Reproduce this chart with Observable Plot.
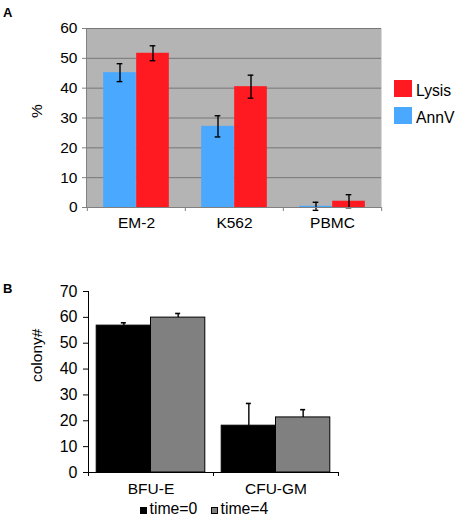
<!DOCTYPE html>
<html><head><meta charset="utf-8">
<script src="https://cdn.jsdelivr.net/npm/d3@7"></script>
<script src="https://cdn.jsdelivr.net/npm/@observablehq/plot@0.6"></script>
<style>
body{margin:0;background:#fff;font-family:"Liberation Sans",Arial,sans-serif;}
#wrap{position:relative;width:460px;height:520px;overflow:hidden;}
#wrap svg{position:absolute;left:0;}
.panel{position:absolute;font-weight:bold;font-size:13px;line-height:13px;}
.sw{position:absolute;box-sizing:border-box;}
.lt{position:absolute;white-space:nowrap;}
</style></head><body><div id="wrap"></div>
<script>
// Panel A data
const catsA = ["EM-2", "K562", "PBMC"];
const seriesA = ["AnnV", "Lysis"];
const annV = [45.2, 27.2, 0.4];
const annVErr = [3.0, 3.55, 1.35];
const lysis = [51.7, 40.5, 2.1];
const lysisErr = [2.5, 3.85, 2.2];
const yTicksA = [0, 10, 20, 30, 40, 50, 60];
const colorsA = ["#4aa8ff", "#ff1a22"];

// Panel B data
const catsB = ["BFU-E", "CFU-GM"];
const seriesB = ["time=0", "time=4"];
const time0 = [56.8, 18.1];
const time0Err = [1.1, 8.6];
const time4 = [59.9, 21.3];
const time4Err = [1.6, 3.0];
const yTicksB = [0, 10, 20, 30, 40, 50, 60, 70];
const colorsB = ["#000000", "#808080"];

const FONT = '"Liberation Sans", Arial, sans-serif';
const wrap = document.getElementById("wrap");

// ---------- Panel A ----------
const A = {w: 460, h: 232, ml: 86, mr: 79, mt: 28, mb: 25, barW: 33, cap: 6};
const bwA = (A.w - A.ml - A.mr) / catsA.length;
const rowsA = catsA.flatMap((c, i) => [
  {cat: c, series: seriesA[0], v: annV[i], e: annVErr[i]},
  {cat: c, series: seriesA[1], v: lysis[i], e: lysisErr[i]}
]);
function seriesMarksA(s, k) {
  const off = k === 0 ? -A.barW / 2 : A.barW / 2;
  const rows = rowsA.filter(d => d.series === s);
  return [
    Plot.barY(rows, {x: "cat", y: "v", fill: "series",
      insetLeft: bwA / 2 + off - A.barW / 2, insetRight: bwA / 2 - off - A.barW / 2}),
    Plot.ruleX(rows, {x: "cat", y1: d => d.v - d.e, y2: d => d.v + d.e, dx: off, stroke: "#000", strokeWidth: 1.4}),
    Plot.tickY(rows, {x: "cat", y: d => d.v + d.e, stroke: "#000", strokeWidth: 1.4,
      insetLeft: bwA / 2 + off - A.cap / 2, insetRight: bwA / 2 - off - A.cap / 2}),
    Plot.tickY(rows, {x: "cat", y: d => d.v - d.e, stroke: "#000", strokeWidth: 1.4,
      insetLeft: bwA / 2 + off - A.cap / 2, insetRight: bwA / 2 - off - A.cap / 2})
  ];
}
const plotA = Plot.plot({
  width: A.w, height: A.h,
  marginLeft: A.ml, marginRight: A.mr, marginTop: A.mt, marginBottom: A.mb,
  style: {fontFamily: FONT, fontSize: "15px", background: "transparent", color: "#000"},
  x: {type: "band", domain: catsA, padding: 0, label: null},
  y: {domain: [0, 60], label: null},
  color: {domain: seriesA, range: colorsA},
  marks: [
    Plot.frame({fill: "#b4b4b4", stroke: null}),
    Plot.gridY(yTicksA.slice(1), {stroke: "#777", strokeOpacity: 1, strokeWidth: 1}),
    ...seriesMarksA(seriesA[0], 0),
    ...seriesMarksA(seriesA[1], 1),
    Plot.ruleY([0], {stroke: "#808080", strokeWidth: 1}),
    Plot.frame({anchor: "left", stroke: "#808080", strokeWidth: 1}),
    Plot.axisY(yTicksA, {tickSize: 4, tickPadding: 5, stroke: "#808080", fill: "#000", fontSize: 15.5, label: null}),
    Plot.axisX(catsA, {tickSize: 4, tickFormat: () => "", dx: -bwA / 2, stroke: "#808080", label: null}),
    Plot.axisX([catsA[catsA.length - 1]], {tickSize: 4, tickFormat: () => "", dx: bwA / 2, stroke: "#808080", label: null}),
    Plot.axisX(catsA, {tickSize: 0, tickPadding: 9, fontSize: 15.5, fill: "#000", label: null}),
    Plot.text(["%"], {text: d => d, frameAnchor: "left", dx: -49, rotate: -90, fontSize: 15.5, fill: "#000"})
  ]
});
plotA.style.top = "0px";
wrap.appendChild(plotA);

// ---------- Panel B ----------
const B = {top: 270, w: 460, h: 230, ml: 88, mr: 122, mt: 21, mb: 28, barW: 54.3, cap: 5};
const bwB = (B.w - B.ml - B.mr) / catsB.length;
const rowsB = catsB.flatMap((c, i) => [
  {cat: c, series: seriesB[0], v: time0[i], e: time0Err[i]},
  {cat: c, series: seriesB[1], v: time4[i], e: time4Err[i]}
]);
function seriesMarksB(s, k) {
  const off = k === 0 ? -B.barW / 2 : B.barW / 2;
  const rows = rowsB.filter(d => d.series === s);
  return [
    Plot.barY(rows, {x: "cat", y: "v", fill: "series", stroke: "#000", strokeWidth: 1,
      insetLeft: bwB / 2 + off - B.barW / 2, insetRight: bwB / 2 - off - B.barW / 2}),
    Plot.ruleX(rows, {x: "cat", y1: "v", y2: d => d.v + d.e, dx: off, stroke: "#000", strokeWidth: 1.4}),
    Plot.tickY(rows, {x: "cat", y: d => d.v + d.e, stroke: "#000", strokeWidth: 1.6,
      insetLeft: bwB / 2 + off - B.cap / 2, insetRight: bwB / 2 - off - B.cap / 2})
  ];
}
const plotB = Plot.plot({
  width: B.w, height: B.h,
  marginLeft: B.ml, marginRight: B.mr, marginTop: B.mt, marginBottom: B.mb,
  style: {fontFamily: FONT, fontSize: "16px", background: "transparent", color: "#000"},
  x: {type: "band", domain: catsB, padding: 0, label: null},
  y: {domain: [0, 70], label: null},
  color: {domain: seriesB, range: colorsB},
  marks: [
    ...seriesMarksB(seriesB[0], 0),
    ...seriesMarksB(seriesB[1], 1),
    Plot.ruleY([0], {stroke: "#000", strokeWidth: 1}),
    Plot.frame({anchor: "left", stroke: "#000", strokeWidth: 1}),
    Plot.axisY(yTicksB, {tickSize: 5, tickPadding: 6, stroke: "#000", fill: "#000", fontSize: 16, label: null}),
    Plot.axisX(catsB, {tickSize: 4, tickFormat: () => "", dx: -bwB / 2, stroke: "#000", label: null}),
    Plot.axisX([catsB[catsB.length - 1]], {tickSize: 4, tickFormat: () => "", dx: bwB / 2, stroke: "#000", label: null}),
    Plot.axisX(catsB, {tickSize: 0, tickPadding: 10, fontSize: 15.5, fill: "#000", label: null}),
    Plot.text(["colony#"], {text: d => d, frameAnchor: "left", dx: -51, rotate: -90, fontSize: 15.5, fill: "#000"})
  ]
});
plotB.style.top = B.top + "px";
wrap.appendChild(plotB);

// ---------- Labels and legends (HTML) ----------
function addDiv(cls, css, txt) {
  const d = document.createElement("div");
  d.className = cls;
  Object.assign(d.style, css);
  if (txt != null) d.textContent = txt;
  wrap.appendChild(d);
  return d;
}
addDiv("panel", {left: "3px", top: "6px"}, "A");
addDiv("panel", {left: "3px", top: "282px"}, "B");

// Legend A (Lysis above AnnV)
const legA = [{s: seriesA[1], c: colorsA[1], y: 80}, {s: seriesA[0], c: colorsA[0], y: 107}];
legA.forEach(l => {
  addDiv("sw", {left: "394px", top: l.y + "px", width: "18px", height: "17px", background: l.c});
  addDiv("lt", {left: "416px", top: (l.y + 2.5) + "px", fontSize: "15.7px", lineHeight: "15.7px"}, l.s);
});

// Legend B
const legB = [{s: seriesB[0], c: colorsB[0], x: 140}, {s: seriesB[1], c: colorsB[1], x: 211}];
legB.forEach(l => {
  addDiv("sw", {left: l.x + "px", top: "507px", width: "7px", height: "7px", background: l.c, border: "1px solid #000"});
  addDiv("lt", {left: (l.x + 9.5) + "px", top: "500.5px", fontSize: "15.8px", lineHeight: "15.8px"}, l.s);
});
</script></body></html>
